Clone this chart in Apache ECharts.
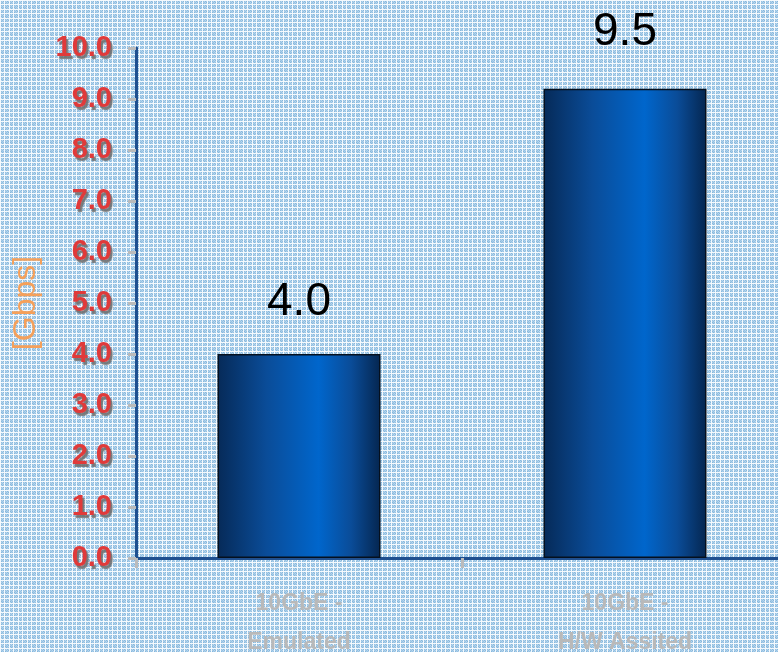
<!DOCTYPE html>
<html><head><meta charset="utf-8">
<script src="https://cdn.jsdelivr.net/npm/echarts@6/dist/echarts.min.js"></script>
<style>html,body{margin:0;padding:0;background:#aacbe6;}#c{width:778px;height:652px;}</style>
</head><body><div id="c"></div>
<script>
const categories = ["10GbE -\nEmulated", "10GbE -\nH/W Assited"];
const values = [4.0, 9.2];
const valueLabels = ["4.0", "9.5"];

// background texture tile
const tile = document.createElement('canvas');
tile.width = 9; tile.height = 9;
const tc = tile.getContext('2d');
const cols = ['#95c1e2', '#abcee9', '#86b7dc', '#b9d7ee'];
for (let y = 0; y < 9; y++) for (let x = 0; x < 9; x++) {
  tc.fillStyle = cols[(x * 3 + y * 5) % 4];
  tc.fillRect(x, y, 1, 1);
}
tc.fillStyle = '#f4f9fd';
tc.fillRect(0, 0, 9, 1); tc.fillRect(0, 4, 9, 1);
tc.fillRect(0, 0, 1, 9); tc.fillRect(4, 0, 1, 9);

const labelGap = [29, 33];

const chart = echarts.init(document.getElementById('c'), null, {renderer: 'canvas'});
chart.setOption({
  animation: false,
  backgroundColor: {image: tile, repeat: 'repeat'},
  grid: {left: 136, top: 48, width: 652, height: 510, containLabel: false, outerBoundsMode: 'none'},
  xAxis: {
    type: 'category', data: categories,
    axisLine: {lineStyle: {color: '#1f4f8f', width: 3}},
    axisTick: {show: true, length: 10, lineStyle: {color: '#bbbbbb', width: 3}},
    axisLabel: {color: '#b9b9b9', fontWeight: 'bold', fontSize: 23, fontFamily: 'Liberation Sans', lineHeight: 39, margin: 26}
  },
  yAxis: {
    type: 'value', min: 0, max: 10, interval: 1,
    name: '[Gbps]', nameLocation: 'middle', nameGap: 94, nameRotate: 90,
    nameTextStyle: {color: '#f5a05a', fontSize: 32, fontFamily: 'Liberation Sans'},
    axisLine: {show: true, lineStyle: {color: '#1f4f8f', width: 3}},
    axisTick: {show: true, length: 8, lineStyle: {color: '#bbbbbb', width: 3}},
    splitLine: {show: false},
    axisLabel: {
      color: '#e03a3a', fontWeight: 'bold', fontSize: 29, fontFamily: 'Liberation Sans', margin: 24,
      textShadowColor: 'rgba(110,110,110,0.9)', textShadowOffsetX: 2, textShadowOffsetY: 3, textShadowBlur: 1,
      formatter: v => v.toFixed(1)
    }
  },
  series: [{
    type: 'bar', barWidth: '50%',
    data: values.map((v, i) => ({value: v, label: {distance: labelGap[i]}})),
    itemStyle: {
      borderColor: '#05101e', borderWidth: 1.5,
      color: new echarts.graphic.LinearGradient(0, 0, 1, 0, [
        {offset: 0, color: '#062a58'},
        {offset: 0.3, color: '#0a4c98'},
        {offset: 0.62, color: '#0066cc'},
        {offset: 0.82, color: '#0a4c98'},
        {offset: 1, color: '#052650'}
      ])
    },
    label: {
      show: true, position: 'top',
      color: '#000', fontSize: 46, fontFamily: 'Liberation Sans',
      formatter: p => valueLabels[p.dataIndex]
    }
  }]
});
</script></body></html>
